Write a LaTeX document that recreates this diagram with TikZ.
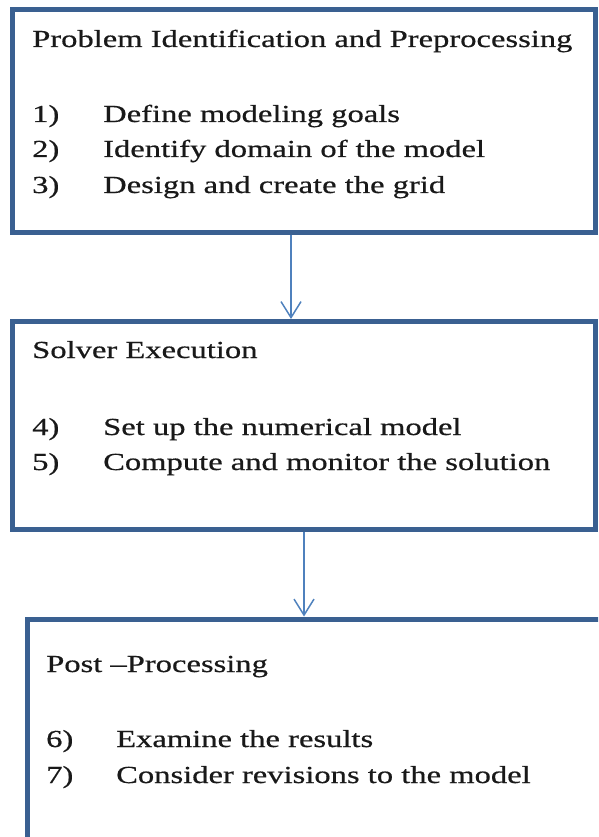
\documentclass[tikz,border=0pt]{standalone}
\usepackage{fontspec}
\setmainfont{Liberation Serif}[FakeStretch=1.33,FakeBold=0.6]
\usetikzlibrary{arrows.meta}
\definecolor{boxblue}{RGB}{58,96,145}
\definecolor{arrowblue}{RGB}{79,129,189}
\tikzset{
  stagebox/.style={draw=boxblue, line width=5pt, rectangle, inner sep=0pt},
  txt/.style={anchor=base west, inner sep=0pt, font=\fontsize{24.5}{28}\selectfont, text=black!90},
  flowarrow/.style={draw=arrowblue, line width=1.5pt, -{Straight Barb[length=16pt,width=20pt,line width=1.5pt]}}
}
\begin{document}
\begin{tikzpicture}[x=1pt,y=-1pt]
\useasboundingbox (0,0) rectangle (598,837);
\clip (0,0) rectangle (598,837);
% boxes
\node[stagebox, minimum width=582.5pt, minimum height=222pt] (box1) at (303.75,121) {};
\node[stagebox, minimum width=582.5pt, minimum height=208pt] (box2) at (303.75,425.5) {};
\node[stagebox, minimum width=612.5pt, minimum height=281pt] (box3) at (333.75,759.5) {};
% texts box 1
\node[txt] (t1) at (32,47) {Problem Identification and Preprocessing};
\node[txt] (n1) at (32,122) {1)};
\node[txt] (i1) at (103,122) {Define modeling goals};
\node[txt] (n2) at (32,157) {2)};
\node[txt] (i2) at (103,157) {Identify domain of the model};
\node[txt] (n3) at (32,193) {3)};
\node[txt] (i3) at (103,193) {Design and create the grid};
% texts box 2
\node[txt] (t2) at (32,358) {Solver Execution};
\node[txt] (n4) at (32,435) {4)};
\node[txt] (i4) at (103,435) {Set up the numerical model};
\node[txt] (n5) at (32,470) {5)};
\node[txt] (i5) at (103,470) {Compute and monitor the solution};
% texts box 3
\node[txt] (t3) at (46,672) {Post –Processing};
\node[txt] (n6) at (46,747) {6)};
\node[txt] (i6) at (116,747) {Examine the results};
\node[txt] (n7) at (46,783) {7)};
\node[txt] (i7) at (116,783) {Consider revisions to the model};
% arrows
\coordinate (c1) at (291,0);
\coordinate (c2) at (304,0);
\draw[flowarrow] (c1 |- box1.south) -- (c1 |- box2.north);
\draw[flowarrow] (c2 |- box2.south) -- (c2 |- box3.north);
\end{tikzpicture}
\end{document}
